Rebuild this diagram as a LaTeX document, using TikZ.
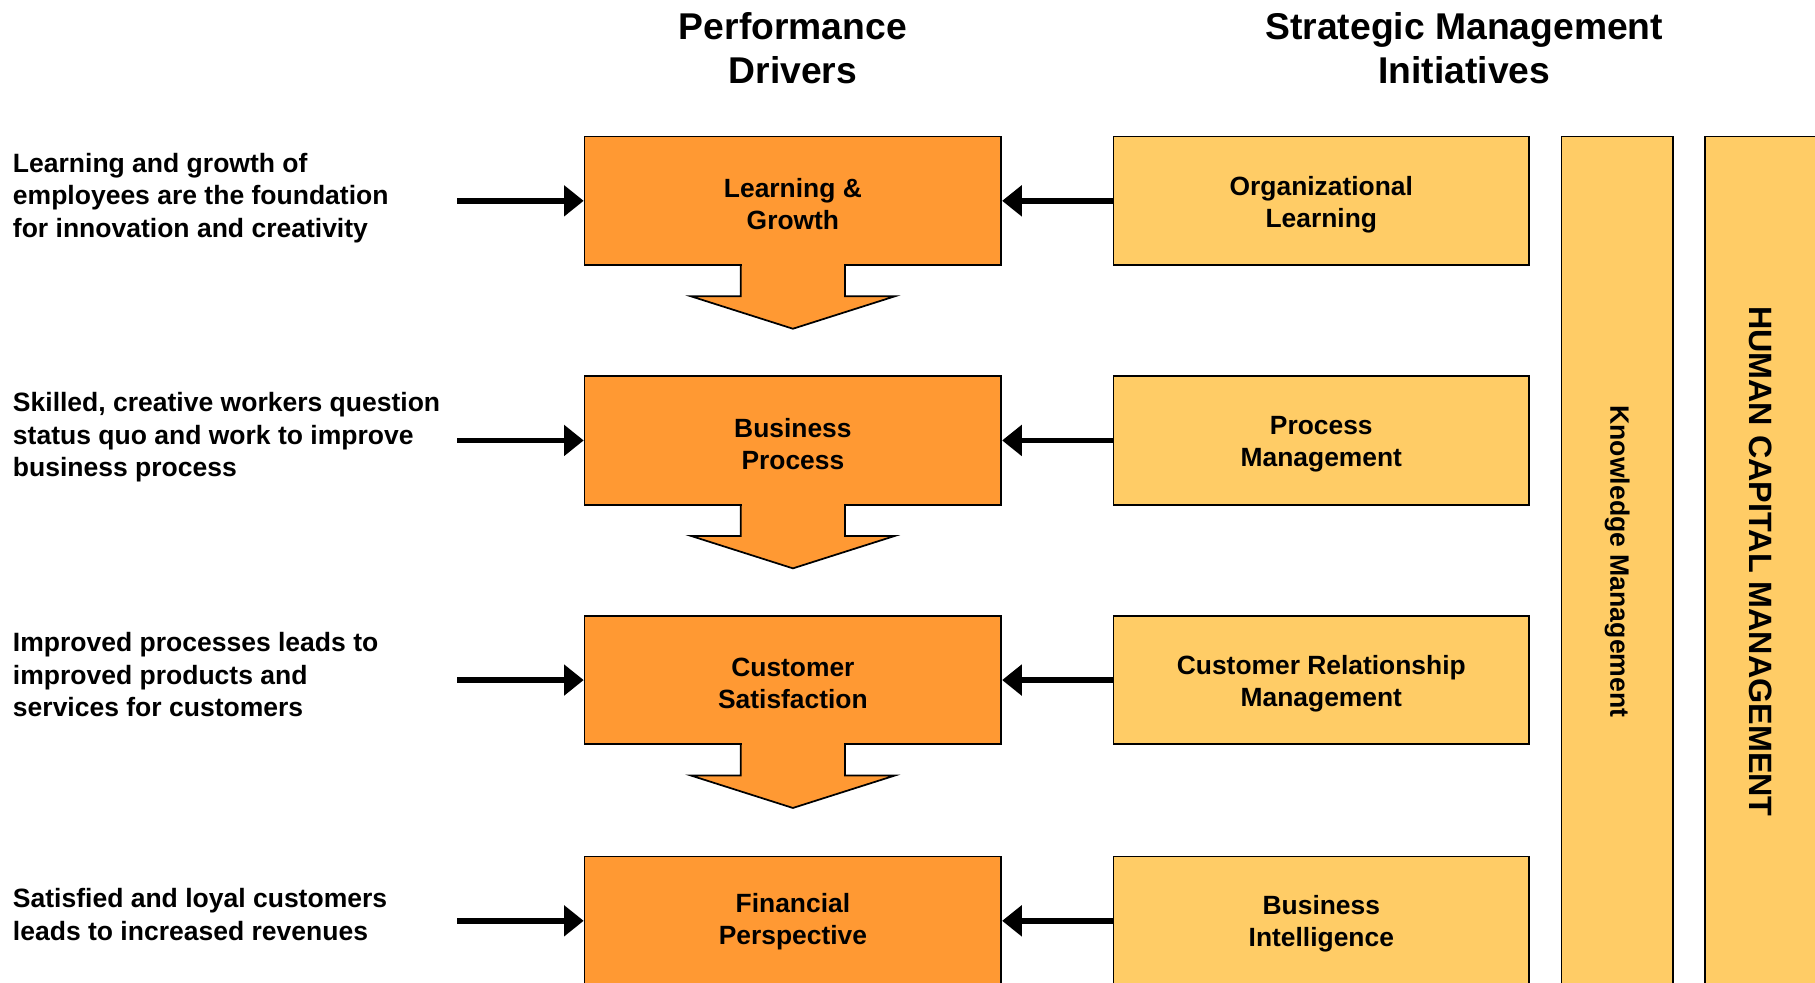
\documentclass[tikz,border=0pt]{standalone}
\usepackage{fontspec}
\setmainfont{Liberation Sans}
\usetikzlibrary{arrows.meta}
\definecolor{drvorange}{RGB}{255,153,51}
\definecolor{inityellow}{RGB}{255,204,102}
\begin{document}
\begin{tikzpicture}[x=1pt,y=-1pt,
  drvbox/.style={draw=black,line width=1.5pt,fill=drvorange,minimum width=360pt,minimum height=111pt,inner sep=0pt},
  initbox/.style={draw=black,line width=1.5pt,fill=inityellow,minimum width=359pt,minimum height=111pt,inner sep=0pt},
  colbox/.style={draw=black,line width=1.5pt,fill=inityellow,minimum width=96pt,minimum height=734pt,inner sep=0pt},
  boxtext/.style={align=center,inner sep=0pt,font=\bfseries\fontsize{22.8}{27.5}\selectfont},
  sidetext/.style={anchor=west,align=left,inner sep=0pt,font=\bfseries\fontsize{22.9}{28}\selectfont},
  title/.style={align=center,inner sep=0pt,font=\bfseries\fontsize{32.2}{38}\selectfont},
  feed/.style={line width=5pt,-{Triangle[length=17pt,width=26pt]}},
  downarrow/.style={fill=drvorange},
  downedge/.style={draw=black,line width=1.5pt,line join=miter}
]
\useasboundingbox (0,0) rectangle (1568,849);
\clip (0,0) rectangle (1568,849);

% titles
\node[title] (t1) at (685,42) {Performance\\Drivers};
\node[title] (t2) at (1265,42) {Strategic Management\\Initiatives};

% columns
\node[colbox] (km) at (1397,485) {};
\node[rotate=-90,font=\bfseries\fontsize{23}{27}\selectfont] (kmt) at (1397,485) {Knowledge Management};
\node[colbox] (hcm) at (1521,485) {};
\node[rotate=-90,font=\bfseries\fontsize{27.9}{32}\selectfont] (hcmt) at (1521,485) {HUMAN CAPITAL MANAGEMENT};

% down arrows (drawn before boxes so boxes cover top)
\foreach \b in {229,436,643}{
  \fill[downarrow] (640,\b-10) -- (640,\b+27) -- (597,\b+27) -- (685,\b+55) -- (773,\b+27) -- (730,\b+27) -- (730,\b-10) -- cycle;
}

% driver boxes
\node[drvbox] (d1) at (685,173.5) {};
\node[drvbox] (d2) at (685,380.5) {};
\node[drvbox] (d3) at (685,587.5) {};
\node[drvbox] (d4) at (685,795.5) {};
\node[boxtext] (d1t) at (685,176.5) {Learning \&\\Growth};
\node[boxtext] (d2t) at (685,383.5) {Business\\Process};
\node[boxtext] (d3t) at (685,590.5) {Customer\\Satisfaction};
\node[boxtext] (d4t) at (685,796.5) {Financial\\Perspective};

% initiative boxes
\node[initbox] (i1) at (1141.5,173.5) {};
\node[initbox] (i2) at (1141.5,380.5) {};
\node[initbox] (i3) at (1141.5,587.5) {};
\node[initbox] (i4) at (1141.5,795.5) {};
\node[boxtext] (i1t) at (1141.5,177) {Organizational\\Learning};
\node[boxtext] (i2t) at (1141.5,384) {Process\\Management};
\node[boxtext] (i3t) at (1141.5,590.5) {Customer Relationship\\Management};
\node[boxtext] (i4t) at (1141.5,798) {Business\\Intelligence};

% arrow stems over box bottoms
\foreach \b in {229,436,643}{
  \fill[downarrow] (641,\b-3) rectangle (729,\b+20);
  \draw[downedge] (640,\b) -- (640,\b+27) -- (597,\b+27) -- (685,\b+55) -- (773,\b+27) -- (730,\b+27) -- (730,\b);
}

% side texts
\node[sidetext] (s1) at (11,171) {Learning and growth of\\employees are the foundation\\for innovation and creativity};
\node[sidetext] (s2) at (11,378) {Skilled, creative workers question\\status quo and work to improve\\business process};
\node[sidetext] (s3) at (11,583) {Improved processes leads to\\improved products and\\services for customers};
\node[sidetext] (s4) at (11,790) {Satisfied and loyal customers\\leads to increased revenues};

% feed coordinates
\coordinate (f1) at (395,173.5);
\coordinate (f2) at (395,380.5);
\coordinate (f3) at (395,587.5);
\coordinate (f4) at (395,795.5);

\draw[feed] (f1) -- (d1.west);
\draw[feed] (f2) -- (d2.west);
\draw[feed] (f3) -- (d3.west);
\draw[feed] (f4) -- (d4.west);

\draw[feed] (i1.west) -- (d1.east);
\draw[feed] (i2.west) -- (d2.east);
\draw[feed] (i3.west) -- (d3.east);
\draw[feed] (i4.west) -- (d4.east);
\end{tikzpicture}
\end{document}
